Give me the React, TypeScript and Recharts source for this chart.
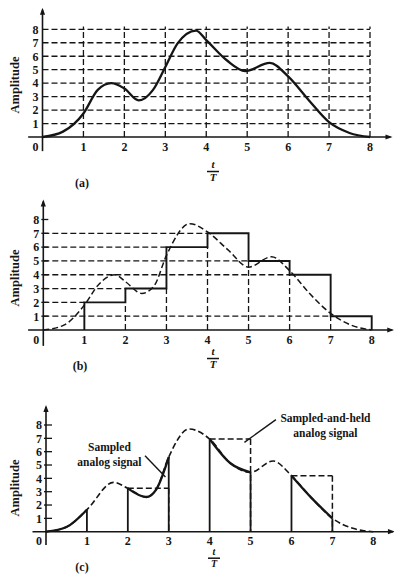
import React from "react"
import { ComposedChart, Line, XAxis, YAxis, ReferenceLine, ReferenceDot } from "recharts"

// axis ticks shared by the three panels
const tTicks = [0, 1, 2, 3, 4, 5, 6, 7, 8]
const ampTicks = [1, 2, 3, 4, 5, 6, 7, 8]

// (a) analog signal
const timeA = [0, 0.5, 1, 1.35, 1.68, 2, 2.35, 2.7, 3, 3.3, 3.75, 4, 4.5, 4.95, 5.55, 6, 6.5, 7, 7.5, 8]
const ampA = [0, 0.4, 1.75, 3.5, 4.0, 3.6, 2.72, 3.5, 5.2, 6.95, 7.9, 7.2, 5.7, 4.9, 5.5, 4.5, 2.75, 1.1, 0.3, 0]

// (b) analog signal + quantized held levels (one per interval starting at t = 1..7)
const timeB = [0, 0.5, 1, 1.35, 1.75, 2, 2.4, 2.7, 3, 3.57, 4, 4.5, 5, 5.56, 6, 6.5, 7, 7.5, 8]
const ampB = [0, 0.35, 1.8, 3.3, 4.0, 3.5, 2.65, 3.2, 5.4, 7.7, 7.1, 5.8, 4.55, 5.3, 4.3, 2.6, 1.2, 0.35, 0]
const heldB = [2, 3, 6, 7, 5, 4, 1]

// (c) analog signal, sample instants, held intervals
const timeC = [0, 0.5, 1, 1.65, 2, 2.45, 2.7, 3, 3.5, 4, 4.5, 5, 5.55, 6, 6.5, 7, 7.5, 8]
const ampC = [0, 0.35, 1.65, 3.7, 3.25, 2.6, 3.2, 5.6, 7.7, 6.95, 5.15, 4.45, 5.3, 4.2, 2.5, 1.0, 0.25, 0]
const sampleTimesC = [1, 2, 3, 4, 5, 6, 7]
const holdTimesC = [2, 4, 6]
const sampledWindowsC = [[0, 1], [2, 3], [4, 5], [6, 7]]

const INK = "#151515"
const FONT = '"Liberation Serif", "Times New Roman", serif'

const rowsA = timeA.map((t, i) => ({ t, a: ampA[i] }))
const rowsB = timeB.map((t, i) => ({ t, a: ampB[i] }))
const rowsC = timeC.map((t, i) => ({
  t,
  a: ampC[i],
  s: sampledWindowsC.some(([lo, hi]) => t >= lo && t <= hi) ? ampC[i] : null,
}))
const stepsB = [
  { t: 1, v: 0 },
  ...heldB.map((v, i) => ({ t: i + 1, v })),
  { t: 8, v: heldB[heldB.length - 1] },
  { t: 8, v: 0 },
]
const ampAtC = (t: number) => ampC[timeC.indexOf(t)]

type Frame = {
  top: number
  height: number
  left: number
  right: number
  y8: number
  y0: number
  xSpan: [number, number]
  ySpan: [number, number]
  tag: string
  tagX: number
  tagY: number
  fracX: number
  fracY: number
  fracSize: number
  ampY: number
  tickIn: number
}

// page-pixel geometry of each panel
const frameA: Frame = {
  top: 0, height: 192, left: 42.5, right: 370, y8: 29.3, y0: 137,
  xSpan: [-0.35, 8.5], ySpan: [-1.05, 9.45],
  tag: "(a)", tagX: 82, tagY: 187, fracX: 213, fracY: 168, fracSize: 11, ampY: 85, tickIn: 0,
}
const frameB: Frame = {
  top: 192, height: 188, left: 43.3, right: 371.7, y8: 219.5, y0: 330,
  xSpan: [-0.37, 8.5], ySpan: [-1.15, 9.3],
  tag: "(b)", tagX: 80, tagY: 370, fracX: 213, fracY: 355, fracSize: 11, ampY: 278, tickIn: 5,
}
const frameC: Frame = {
  top: 380, height: 195, left: 46, right: 373.3, y8: 425, y0: 531.7,
  xSpan: [-0.33, 8.48], ySpan: [-1.0, 9.35],
  tag: "(c)", tagX: 82, tagY: 571, fracX: 214, fracY: 555, fracSize: 10, ampY: 488, tickIn: 6,
}

const seg = (key: string, x1: number, y1: number, x2: number, y2: number, dashed: boolean, w = 1.4) => (
  <ReferenceLine
    key={key}
    segment={[{ x: x1, y: y1 }, { x: x2, y: y2 }]}
    stroke={INK}
    strokeWidth={w}
    strokeDasharray={dashed ? "6 3" : undefined}
    ifOverflow="visible"
  />
)

const XTick = (props: any) => {
  const { x, y, payload } = props
  return (
    <text x={x + (payload.value === 0 ? -7 : 0)} y={y} dy="0.71em" textAnchor="middle"
      fontFamily={FONT} fontWeight="bold" fontSize={12} fill={INK}>
      {payload.value}
    </text>
  )
}

const makeYTick = (inner: number) => (props: any) => {
  const { x, y, payload } = props
  return (
    <g>
      <text x={x} y={y} dy="0.36em" textAnchor="end" fontFamily={FONT} fontWeight="bold" fontSize={12} fill={INK}>
        {payload.value}
      </text>
      {inner > 0 && <line x1={x + 2} x2={x + 4 + inner} y1={y} y2={y} stroke={INK} strokeWidth={1.3} />}
    </g>
  )
}

// captions are given in page pixels; shift into the panel's own svg
const caption = (f: Frame) => () => {
  const ty = f.tagY - f.top
  const fy = f.fracY - f.top
  const s = f.fracSize
  return (
    <g fontFamily={FONT} fontWeight="bold" fill={INK}>
      <text x={f.tagX} y={ty} textAnchor="middle" fontSize={12}>{f.tag}</text>
      <text x={f.fracX} y={fy} textAnchor="middle" fontSize={s} fontStyle="italic">t</text>
      <line x1={f.fracX - 6} x2={f.fracX + 6} y1={fy + s * 0.32} y2={fy + s * 0.32} stroke={INK} strokeWidth={1.5} />
      <text x={f.fracX} y={fy + s * 1.18} textAnchor="middle" fontSize={s} fontStyle="italic">T</text>
    </g>
  )
}

const ampLabel = (f: Frame) => () => {
  const y = f.ampY - f.top
  return (
    <text x={19} y={y} transform={`rotate(-90 19 ${y})`} textAnchor="middle"
      fontFamily={FONT} fontWeight="bold" fontSize={12.5} fill={INK}>
      Amplitude
    </text>
  )
}

const upArrow = (p: any) => (
  <path d={`M${p.cx},${p.cy - 2} L${p.cx - 2.6},${p.cy + 5} L${p.cx + 2.6},${p.cy + 5} Z`} fill={INK} />
)
const rightArrow = (p: any) => (
  <path d={`M${p.cx + 2},${p.cy} L${p.cx - 5},${p.cy - 2.6} L${p.cx - 5},${p.cy + 2.6} Z`} fill={INK} />
)

const axesFor = (f: Frame) => [
  seg("xaxis", f.xSpan[0], 0, f.xSpan[1], 0, false, 1.6),
  seg("yaxis", 0, f.ySpan[0], 0, f.ySpan[1], false, 1.6),
  <ReferenceDot key="yarr" x={0} y={f.ySpan[1]} r={3} ifOverflow="visible" shape={upArrow} />,
  <ReferenceDot key="xarr" x={f.xSpan[1]} y={0} r={3} ifOverflow="visible" shape={rightArrow} />,
]

function Panel({ f, data, children }: { f: Frame; data: any[]; children: React.ReactNode }) {
  return (
    <div style={{ position: "absolute", left: 0, top: f.top }}>
      <ComposedChart
        width={394}
        height={f.height}
        data={data}
        margin={{ top: f.y8 - f.top, right: 394 - f.right, bottom: f.top + f.height - f.y0 - 20, left: 0 }}
      >
        <XAxis type="number" dataKey="t" domain={[0, 8]} ticks={tTicks} interval={0} height={20}
          axisLine={false} tickLine={false} tickSize={0} tickMargin={5} tick={<XTick />} label={caption(f)} />
        <YAxis type="number" domain={[0, 8]} ticks={ampTicks} interval={0} width={f.left}
          axisLine={false} tickLine={false} tickSize={0} tickMargin={4} tick={makeYTick(f.tickIn)} label={ampLabel(f)} />
        {children}
      </ComposedChart>
    </div>
  )
}

const notesC = [
  { key: "sampled", x: 1.55, y: 6.35, lines: ["Sampled", "analog signal"] },
  { key: "held", x: 6.83, y: 8.5, lines: ["Sampled-and-held", "analog signal"] },
]
const leadersC = [
  { key: "l1", from: [2.42, 5.7], to: [2.92, 4.1] },
  { key: "l2", from: [5.62, 8.4], to: [4.85, 6.7] },
]

const noteLabel = (lines: string[]) => (props: any) => {
  const vb = props.viewBox || { x: 0, y: 0, width: 0, height: 0 }
  const cx = vb.x + (vb.width || 0) / 2
  const cy = vb.y + (vb.height || 0) / 2
  return (
    <g fontFamily={FONT} fontWeight="bold" fontSize={11.5} fill={INK}>
      {lines.map((l, i) => (
        <text key={i} x={cx} y={cy + i * 14.5} textAnchor="middle" dy="0.35em">{l}</text>
      ))}
    </g>
  )
}

export default function App() {
  const gridA = [
    ...ampTicks.map((v) => seg(`h${v}`, 0, v, 8, v, true, 1.3)),
    ...tTicks.slice(1).map((t) => seg(`v${t}`, t, 0, t, 8.2, true, 1.3)),
  ]

  const guidesB = [
    ...heldB.map((v, i) => seg(`gh${i}`, 0, v, i + 1, v, true, 1.3)),
    ...heldB.slice(1).map((v, i) => seg(`gv${i}`, i + 2, 0, i + 2, Math.min(heldB[i], v), true, 1.3)),
  ]

  const holdsC = holdTimesC.flatMap((t) => [
    seg(`hh${t}`, t, ampAtC(t), t + 1, ampAtC(t), true, 1.5),
    seg(`hv${t}`, t + 1, ampAtC(t), t + 1, 0, true, 1.5),
  ])
  const pulsesC = sampleTimesC.map((t) => seg(`p${t}`, t, 0, t, ampAtC(t), false, 1.8))

  return (
    <div style={{ position: "absolute", left: 0, top: 0, width: 394, height: 575, background: "#fff" }}>
      <Panel f={frameA} data={rowsA}>
        {gridA}
        {axesFor(frameA)}
        <Line type="monotone" dataKey="a" stroke={INK} strokeWidth={2.3} dot={false} isAnimationActive={false} />
      </Panel>

      <Panel f={frameB} data={rowsB}>
        {guidesB}
        {axesFor(frameB)}
        <Line type="monotone" dataKey="a" stroke={INK} strokeWidth={1.5} strokeDasharray="6 3" dot={false} isAnimationActive={false} />
        <Line data={stepsB} type="stepAfter" dataKey="v" stroke={INK} strokeWidth={1.9} dot={false} isAnimationActive={false} />
      </Panel>

      <Panel f={frameC} data={rowsC}>
        {axesFor(frameC)}
        <Line type="monotone" dataKey="a" stroke={INK} strokeWidth={1.6} strokeDasharray="6 3" dot={false} isAnimationActive={false} />
        {holdsC}
        <Line type="monotone" dataKey="s" stroke={INK} strokeWidth={2.3} dot={false} connectNulls={false} isAnimationActive={false} />
        {pulsesC}
        {leadersC.map((l) => seg(l.key, l.from[0], l.from[1], l.to[0], l.to[1], false, 1.4))}
        {notesC.map((n) => (
          <ReferenceDot key={n.key} x={n.x} y={n.y} r={0} fill="none" stroke="none" ifOverflow="visible" label={noteLabel(n.lines)} />
        ))}
      </Panel>
    </div>
  )
}
